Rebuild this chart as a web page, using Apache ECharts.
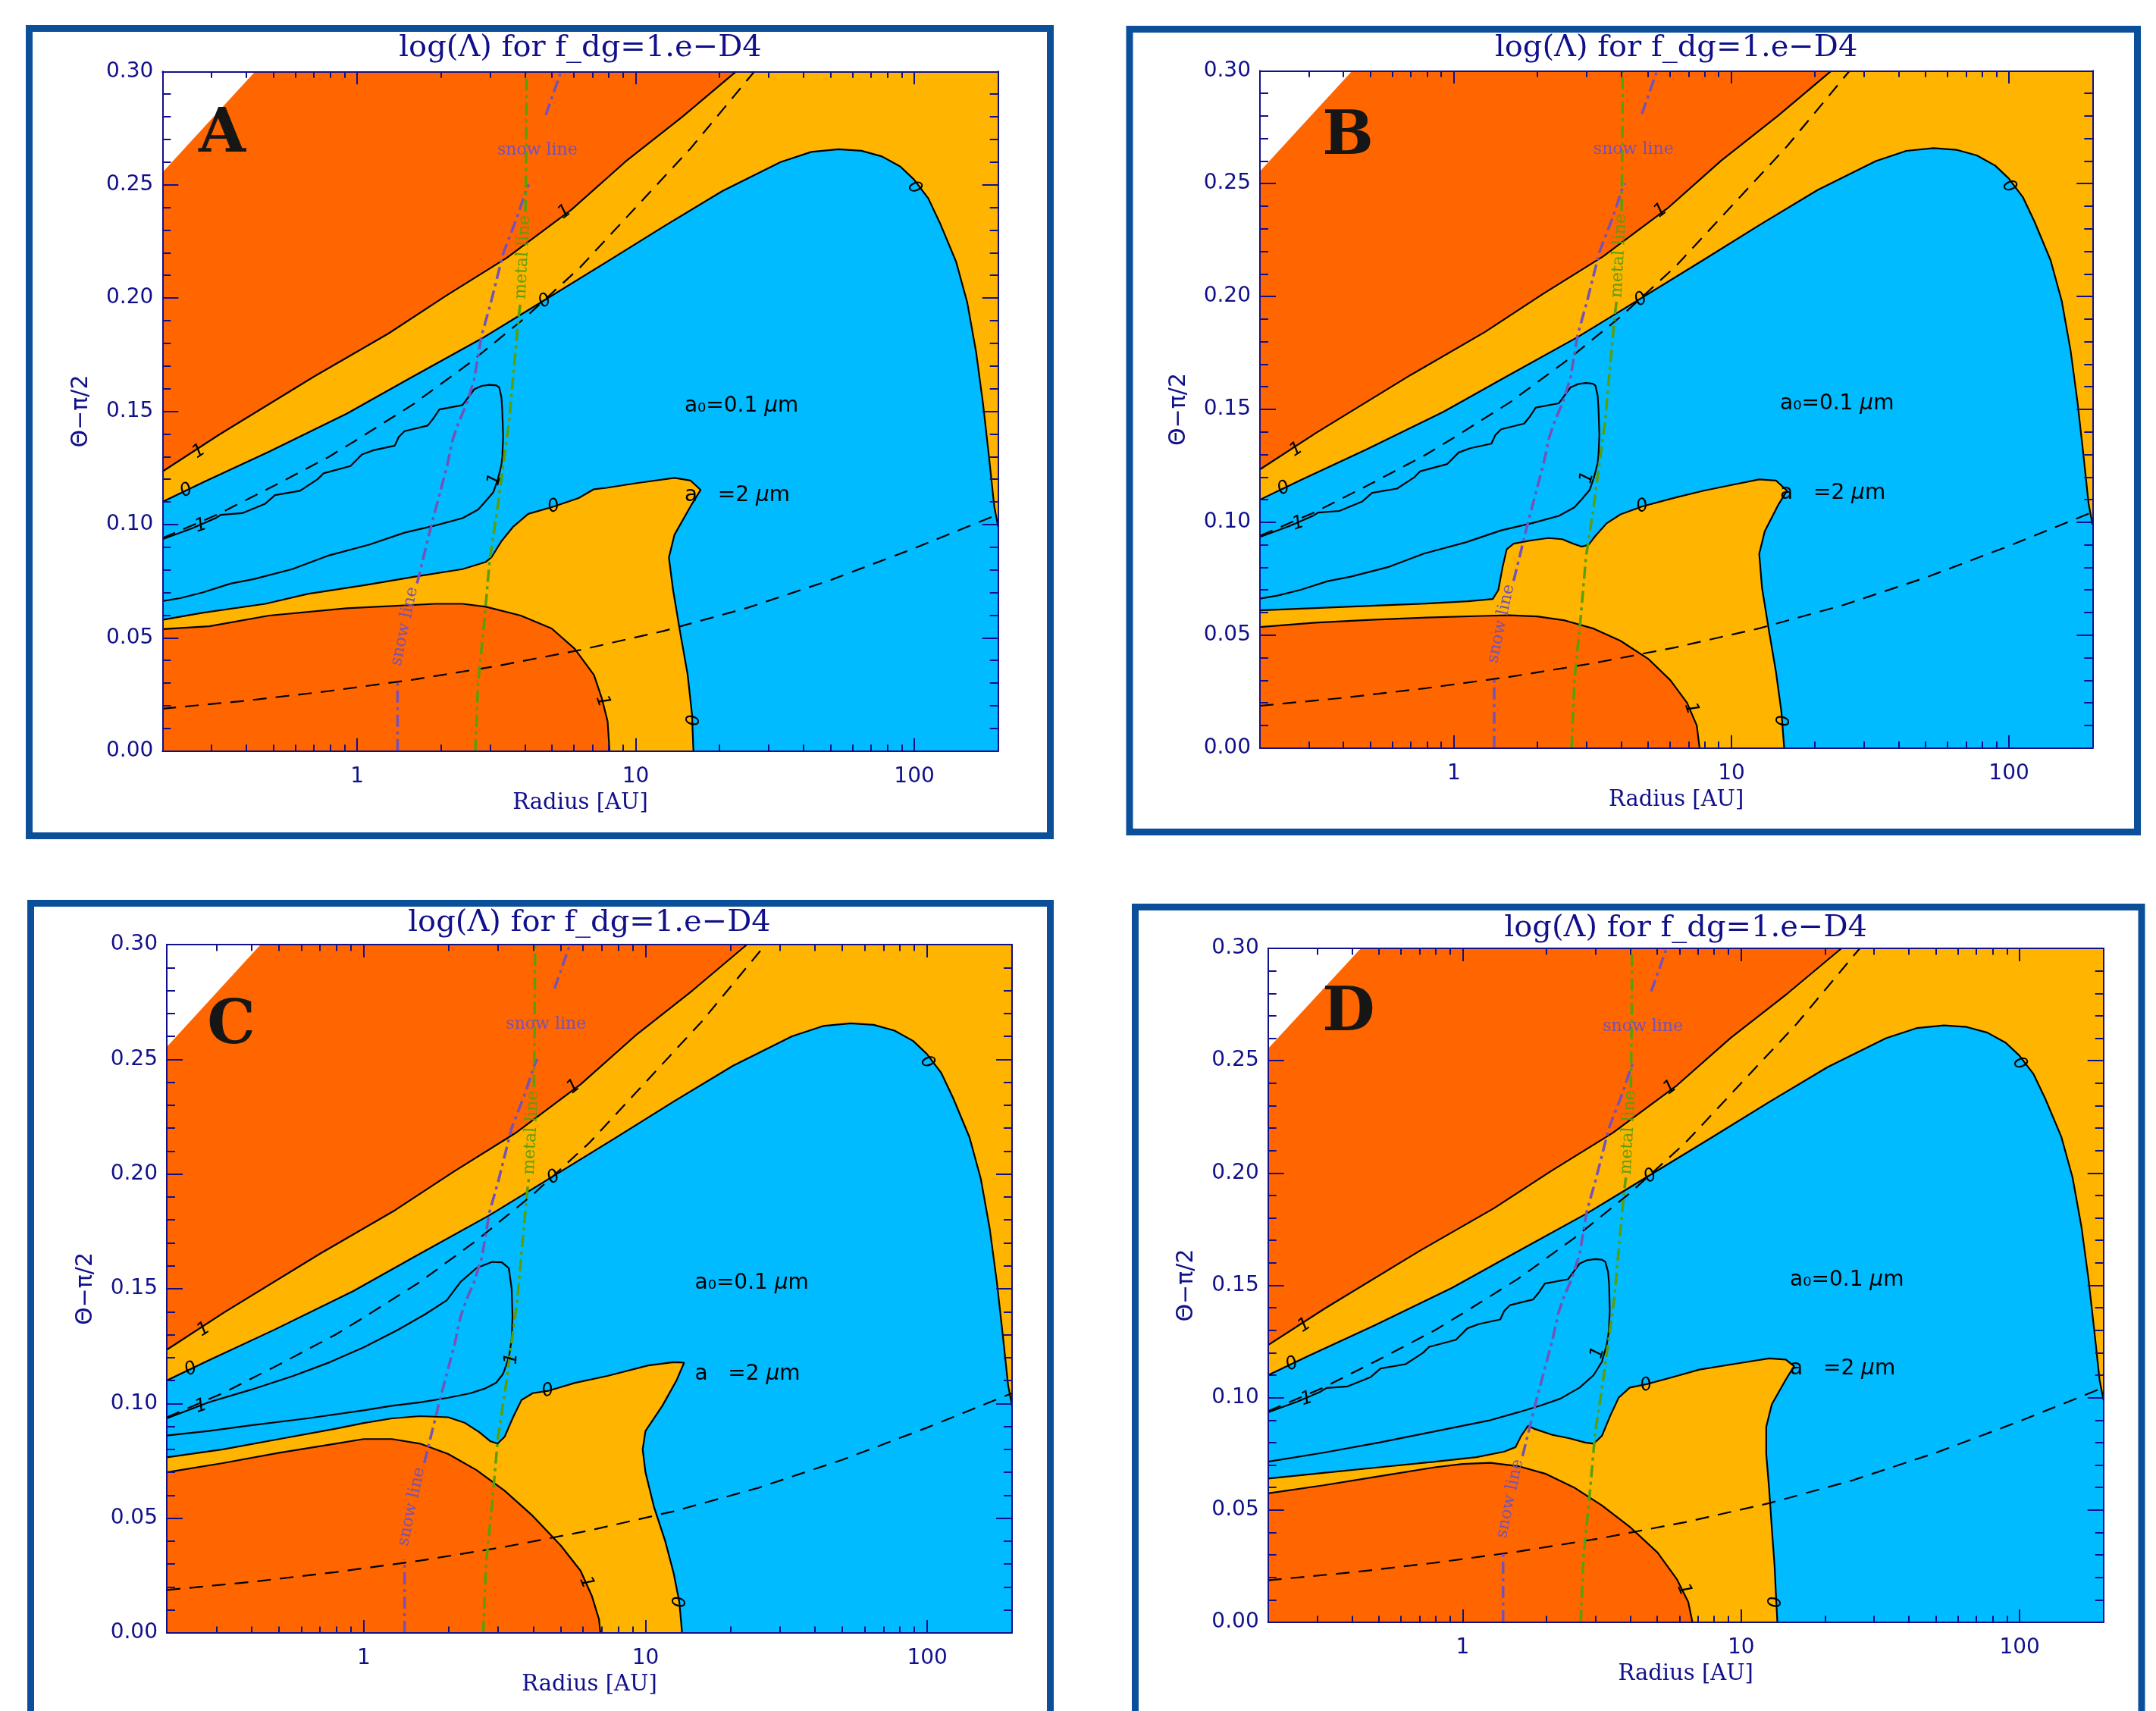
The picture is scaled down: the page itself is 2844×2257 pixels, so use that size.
<!DOCTYPE html>
<html><head><meta charset="utf-8">
<script src="https://cdn.jsdelivr.net/npm/echarts/dist/echarts.min.js"></script>
<style>html,body{margin:0;padding:0;background:#fff}#c{width:2844px;height:2257px}</style>
</head><body><div id="c"></div>
<script>
// ===== DATA: points are [log10(Radius/AU), Θ−π/2] =====
const X_MIN = -0.69897, X_MAX = 2.30103;
const xMajorTicks = [0, 1, 2];
const xMinorRadii = [0.3,0.4,0.5,0.6,0.7,0.8,0.9,2,3,4,5,6,7,8,9,20,30,40,50,60,70,80,90];
const yMin = 0, yMax = 0.30, yStep = 0.05;

// shared upper structure (a0 = 0.1 micron)
const contour1Upper = [[-0.699,0.1234],[-0.495,0.1397],[-0.155,0.1653],[0.112,0.1843],[0.319,0.2010],[0.538,0.2178],[0.769,0.2390],[0.963,0.2602],[1.167,0.2800],[1.360,0.300]];
const contour0Upper = [[-0.699,0.110],[-0.552,0.1187],[-0.316,0.1322],[-0.038,0.1489],[0.184,0.1642],[0.447,0.1821],[0.580,0.1921],[0.894,0.2158],[1.103,0.2318],[1.311,0.2472],[1.520,0.2600],[1.630,0.2645],[1.728,0.2657],[1.810,0.2650],[1.884,0.2625],[1.950,0.2580],[1.999,0.2523],[2.050,0.2440],[2.092,0.2331],[2.150,0.2160],[2.190,0.1980],[2.222,0.1760],[2.247,0.1530],[2.268,0.1300],[2.287,0.1080],[2.301,0.099]];
const dashUpper = [[-0.699,0.094],[-0.5,0.1045],[-0.3,0.117],[-0.1,0.130],[0,0.1375],[0.2,0.153],[0.4,0.171],[0.6,0.191],[0.8,0.2135],[1.0,0.240],[1.2,0.2665],[1.426,0.300]];
const dashLower = [[-0.699,0.0187],[-0.4,0.0222],[-0.1,0.0265],[0.2,0.0315],[0.5,0.0375],[0.8,0.0446],[1.1,0.0530],[1.4,0.0632],[1.7,0.0755],[2.0,0.0895],[2.301,0.1045]];
const whiteCorner = [[-0.699,0.2554],[-0.366,0.300],[-0.699,0.300]];
const snowLow = [[0.145,0.0],[0.145,0.032]];
const snowMid = [[0.215,0.074],[0.267,0.100],[0.323,0.126],[0.343,0.1375],[0.364,0.145],[0.392,0.153],[0.420,0.164],[0.446,0.1832],[0.477,0.1966],[0.525,0.2200],[0.574,0.2356],[0.604,0.2468],[0.616,0.2501]];
const snowTop = [[0.677,0.2808],[0.732,0.300]];
const metalLow = [[0.424,0.0],[0.434,0.030],[0.455,0.0554],[0.476,0.0848],[0.503,0.1066],[0.524,0.1258],[0.545,0.145],[0.559,0.1642],[0.580,0.1921],[0.586,0.198]];
const metalTop = [[0.604,0.238],[0.607,0.2713],[0.608,0.300]];
const sharedContourLabels = [['1',-0.568,0.1322,33],['0',-0.613,0.115,26],['1',0.745,0.238,37],['0',0.674,0.1986,31],['0',2.0,0.2487,-53]];
const sharedTexts = [['snowH','snow line',0.647,0.2652,0],['snowV','snow line',0.170,0.055,78],['metalV','metal line',0.595,0.218,87],
  ['a0','a₀=0.1 ',1.175,0.1524,0],['a2','a   =2 ',1.175,0.1127,0]];

// ---- panel A lower structure (a = 2 micron)
const innerLoopA = [[-0.699,0.0935],[-0.593,0.0983],[-0.510,0.1027],[-0.489,0.1043],[-0.413,0.1050],[-0.330,0.1092],[-0.295,0.1130],[-0.205,0.1149],[-0.142,0.1200],[-0.121,0.1226],[-0.024,0.1258],[0.017,0.1309],[0.059,0.1328],[0.135,0.1348],[0.149,0.1386],[0.170,0.1412],[0.253,0.1437],[0.274,0.1469],[0.295,0.1508],[0.378,0.1527],[0.420,0.1597],[0.447,0.1612],[0.475,0.1617],[0.500,0.1614],[0.510,0.1605],[0.518,0.1560],[0.521,0.1500],[0.524,0.1386],[0.521,0.1300],[0.517,0.1258],[0.505,0.1200],[0.489,0.1143],[0.462,0.1104],[0.434,0.1066],[0.378,0.1028],[0.281,0.0996],[0.170,0.0964],[0.045,0.0912],[-0.108,0.0861],[-0.233,0.0803],[-0.371,0.0759],[-0.455,0.0739],[-0.552,0.0701],[-0.635,0.0675],[-0.699,0.0662]];
const lower0A = [[-0.699,0.0579],[-0.552,0.0611],[-0.330,0.0650],[-0.177,0.0694],[0.031,0.0733],[0.212,0.0771],[0.378,0.0803],[0.462,0.0835],[0.482,0.0855],[0.517,0.0925],[0.559,0.0989],[0.614,0.1047],[0.705,0.1079],[0.795,0.1117],[0.850,0.1156],[0.895,0.1162],[0.999,0.1182],[1.139,0.1206],[1.197,0.1194],[1.233,0.1153],[1.197,0.1081],[1.139,0.0955],[1.119,0.0854],[1.134,0.0711],[1.160,0.0520],[1.186,0.0340],[1.202,0.0161],[1.207,0.0]];
const lower1A = [[-0.699,0.0538],[-0.531,0.0551],[-0.316,0.0598],[-0.038,0.0630],[0.281,0.0650],[0.378,0.0650],[0.462,0.0637],[0.587,0.0598],[0.698,0.0541],[0.781,0.0451],[0.850,0.0336],[0.878,0.0234],[0.899,0.0131],[0.906,0.0]];
const labelsA = [['1',-0.561,0.0995,18],['1',0.494,0.1198,75],['0',0.706,0.1079,18],['1',0.881,0.022,-71],['0',1.21,0.0136,90]];

// ---- panel B
const lower0B = [[-0.699,0.0610],[-0.5,0.0620],[-0.3,0.0630],[-0.1,0.0640],[0.05,0.0650],[0.14,0.0660],[0.16,0.0700],[0.175,0.0800],[0.19,0.0880],[0.215,0.0905],[0.28,0.0920],[0.34,0.0930],[0.39,0.0925],[0.43,0.0905],[0.46,0.0892],[0.485,0.0900],[0.51,0.0940],[0.55,0.0995],[0.60,0.1035],[0.679,0.1070],[0.80,0.1110],[0.90,0.1140],[1.00,0.1165],[1.10,0.1190],[1.16,0.1185],[1.20,0.1140],[1.17,0.1080],[1.12,0.0960],[1.10,0.0860],[1.11,0.0710],[1.135,0.0520],[1.16,0.0340],[1.18,0.0160],[1.19,0.0]];
const lower1B = [[-0.699,0.0536],[-0.5,0.0555],[-0.3,0.0568],[-0.1,0.0578],[0.1,0.0585],[0.2,0.0588],[0.3,0.0583],[0.4,0.0565],[0.5,0.0530],[0.6,0.0475],[0.7,0.0395],[0.78,0.0300],[0.84,0.0200],[0.875,0.0100],[0.885,0.0]];
const labelsB = [['1',-0.561,0.0995,18],['1',0.48,0.1198,75],['0',0.679,0.107,18],['1',0.855,0.0175,-71],['0',1.19,0.012,90]];

// ---- panel C
const innerLoopC = [[-0.699,0.0935],[-0.55,0.1005],[-0.4,0.1060],[-0.25,0.1120],[-0.12,0.1180],[0.0,0.1245],[0.12,0.1320],[0.22,0.1390],[0.295,0.1450],[0.344,0.1530],[0.40,0.1590],[0.456,0.1617],[0.49,0.1615],[0.515,0.1590],[0.525,0.1500],[0.528,0.1380],[0.525,0.1280],[0.515,0.1200],[0.495,0.1130],[0.47,0.1090],[0.43,0.1065],[0.38,0.1045],[0.3,0.1025],[0.2,0.1005],[0.1,0.0990],[0.0,0.0970],[-0.2,0.0935],[-0.4,0.0905],[-0.55,0.0880],[-0.699,0.0860]];
const lower0C = [[-0.699,0.0765],[-0.5,0.0800],[-0.3,0.0845],[-0.1,0.0890],[0.0,0.0915],[0.1,0.0935],[0.2,0.0945],[0.3,0.0940],[0.36,0.0915],[0.41,0.0875],[0.45,0.0835],[0.475,0.0825],[0.50,0.0855],[0.53,0.0940],[0.56,0.1015],[0.60,0.1045],[0.654,0.1055],[0.75,0.1090],[0.865,0.1120],[1.01,0.1166],[1.10,0.1180],[1.137,0.1178],[1.11,0.1100],[1.06,0.0990],[1.0,0.0880],[0.99,0.0800],[1.0,0.0700],[1.03,0.0550],[1.07,0.0400],[1.10,0.0260],[1.12,0.0135],[1.13,0.0]];
const lower1C = [[-0.699,0.0700],[-0.5,0.0740],[-0.3,0.0785],[-0.1,0.0825],[0.0,0.0845],[0.1,0.0845],[0.2,0.0825],[0.3,0.0780],[0.4,0.0710],[0.5,0.0620],[0.6,0.0510],[0.7,0.0380],[0.77,0.0270],[0.81,0.0160],[0.835,0.0060],[0.84,0.0]];
const labelsC = [['1',-0.577,0.0988,18],['1',0.525,0.1195,85],['0',0.654,0.1055,15],['1',0.79,0.022,-68],['0',1.125,0.0135,90]];

// ---- panel D
const lower0D = [[-0.699,0.0640],[-0.5,0.0665],[-0.3,0.0690],[-0.1,0.0715],[0.05,0.0735],[0.15,0.0760],[0.19,0.0780],[0.21,0.0830],[0.235,0.0875],[0.26,0.0860],[0.32,0.0835],[0.38,0.0820],[0.44,0.0800],[0.47,0.0795],[0.50,0.0830],[0.53,0.0920],[0.56,0.1000],[0.60,0.1045],[0.66,0.1060],[0.75,0.1090],[0.85,0.1125],[1.0,0.1155],[1.10,0.1175],[1.16,0.1170],[1.19,0.1140],[1.16,0.1080],[1.11,0.0970],[1.09,0.0870],[1.09,0.0750],[1.10,0.0600],[1.11,0.0420],[1.12,0.0250],[1.125,0.0120],[1.13,0.0]];
const lower1D = [[-0.699,0.0574],[-0.5,0.0610],[-0.3,0.0650],[-0.1,0.0690],[0.0,0.0705],[0.1,0.0710],[0.2,0.0695],[0.3,0.0660],[0.4,0.0600],[0.5,0.0520],[0.6,0.0425],[0.7,0.0310],[0.77,0.0190],[0.81,0.0090],[0.825,0.0]];
const innerLoopD = [[-0.699,0.0935],[-0.593,0.0983],[-0.510,0.1027],[-0.489,0.1043],[-0.413,0.1050],[-0.330,0.1092],[-0.295,0.1130],[-0.205,0.1149],[-0.142,0.1200],[-0.121,0.1226],[-0.024,0.1258],[0.017,0.1309],[0.059,0.1328],[0.135,0.1348],[0.149,0.1386],[0.170,0.1412],[0.253,0.1437],[0.274,0.1469],[0.295,0.1508],[0.378,0.1527],[0.420,0.1597],[0.447,0.1612],[0.475,0.1617],[0.500,0.1614],[0.512,0.1605],[0.522,0.1560],[0.526,0.1500],[0.528,0.1386],[0.525,0.1300],[0.518,0.1240],[0.500,0.1160],[0.470,0.1100],[0.420,0.1045],[0.350,0.0995],[0.280,0.0965],[0.200,0.0935],[0.100,0.0900],[-0.100,0.0850],[-0.300,0.0800],[-0.500,0.0755],[-0.699,0.0715]];
const labelsD = [['1',-0.56,0.0995,18],['1',0.485,0.120,75],['0',0.66,0.1055,18],['1',0.795,0.0145,-68],['0',1.125,0.009,90]];

const panelLetters = ['A','B','C','D'];
const letterPos = [[-0.485,0.2717],[-0.382,0.270],[-0.470,0.264],[-0.410,0.2706]];
const innerLoops = [innerLoopA, innerLoopA, innerLoopC, innerLoopD];
const lower0s = [lower0A, lower0B, lower0C, lower0D];
const lower1s = [lower1A, lower1B, lower1C, lower1D];
const lowerLabels = [labelsA, labelsB, labelsC, labelsD];

// ===== LAYOUT / STYLE =====
const grids = [
  {left:214.3, top:94.3, width:1102.4, height:896.4},
  {left:1662, top:93.3, width:1098.3, height:893.4},
  {left:220, top:1246, width:1115, height:908},
  {left:1672.7, top:1251, width:1102, height:889}
];
const frames = [[38.5,37.5,1347,1065],[1490,38.5,1329.5,1059],[40.5,1191.5,1345,1100],[1497.5,1196.5,1327.5,1100]];
const titleY = [64, 64, 1218, 1225];
const AX = '#10108a', FRAME = '#0b4f9b';
const RED = '#ff6600', ORG = '#ffb400', CYAN = '#00bbff', WHITE = '#ffffff';
const SNOW = '#7452b8', METAL = '#5a9e08';

const textStyles = {
  snowH: {font:'22px "DejaVu Serif"', fill:SNOW, align:'center'},
  snowV: {font:'22px "DejaVu Serif"', fill:SNOW, align:'center'},
  metalV:{font:'22px "DejaVu Serif"', fill:METAL, align:'center'},
  a0:    {font:'28px "DejaVu Sans"', fill:'#000', align:'left', mu:true},
  a2:    {font:'28px "DejaVu Sans"', fill:'#000', align:'left', mu:true},
  letter:{font:'bold 80px "DejaVu Serif"', fill:'#161616', align:'center'},
  clabel:{font:'italic 24px "DejaVu Sans"', fill:'#000', align:'center'}
};

const xMinorTicks = xMinorRadii.map(r => Math.log10(r));

function polyRenderer(list){
  return function(params, api){
    const f = list[params.dataIndex];
    return {type:'polygon', shape:{points:f.pts.map(p => api.coord(p))}, style:{fill:f.color}, silent:true};
  };
}
function textRenderer(list){
  return function(params, api){
    const t = list[params.dataIndex];
    const st = textStyles[t.kind];
    const c = api.coord([t.x, t.y]);
    const style = {text:t.text, font:st.font, fill:st.fill, align:st.align, verticalAlign:'middle'};
    if (st.mu){
      style.text = '{n|' + t.text + '}{i|μ}{n|m}';
      style.rich = {n:{font:st.font, fill:st.fill}, i:{font:'italic ' + st.font, fill:st.fill}};
    }
    return {type:'text', x:c[0], y:c[1], rotation:(t.rot||0)*Math.PI/180, style:style, silent:true};
  };
}

const option = {animation:false, backgroundColor:'#fff', grid:[], xAxis:[], yAxis:[], series:[], graphic:[]};

grids.forEach((g, i) => {
  option.grid.push(Object.assign({show:true, backgroundColor:ORG, borderWidth:0, containLabel:false, outerBoundsMode:'none'}, g));
  const xBase = {gridIndex:i, type:'value', min:X_MIN, max:X_MAX, z:10, splitLine:{show:false},
    axisLine:{show:true, onZero:false, lineStyle:{color:AX, width:2}}};
  option.xAxis.push(Object.assign({}, xBase, {position:'bottom',
    axisTick:{show:true, inside:true, length:17, customValues:xMajorTicks, lineStyle:{color:AX, width:2}},
    axisLabel:{show:true, customValues:xMajorTicks, color:AX, fontSize:28, fontFamily:'DejaVu Sans', margin:20,
      formatter: v => String(Math.round(Math.pow(10, v)))},
    name:'Radius [AU]', nameLocation:'middle', nameGap:54,
    nameTextStyle:{color:AX, fontSize:29, fontFamily:'DejaVu Serif'}}));
  option.xAxis.push(Object.assign({}, xBase, {position:'top',
    axisTick:{show:true, inside:true, length:17, customValues:xMajorTicks, lineStyle:{color:AX, width:2}},
    axisLabel:{show:false}}));
  option.xAxis.push(Object.assign({}, xBase, {position:'bottom', axisLine:{show:false, onZero:false},
    axisTick:{show:true, inside:true, length:8.5, customValues:xMinorTicks, lineStyle:{color:AX, width:2}},
    axisLabel:{show:false}}));
  option.xAxis.push(Object.assign({}, xBase, {position:'top', axisLine:{show:false, onZero:false},
    axisTick:{show:true, inside:true, length:8.5, customValues:xMinorTicks, lineStyle:{color:AX, width:2}},
    axisLabel:{show:false}}));
  const yBase = {gridIndex:i, type:'value', min:yMin, max:yMax, interval:yStep, z:10, splitLine:{show:false},
    axisLine:{show:true, onZero:false, lineStyle:{color:AX, width:2}},
    axisTick:{show:true, inside:true, length:21, lineStyle:{color:AX, width:2}},
    minorTick:{show:true, splitNumber:5, length:11, lineStyle:{color:AX, width:2}}};
  option.yAxis.push(Object.assign({}, yBase, {position:'left',
    axisLabel:{show:true, color:AX, fontSize:28, fontFamily:'DejaVu Sans', margin:12, formatter: v => v.toFixed(2)},
    name:'Θ−π/2', nameLocation:'middle', nameGap:92, nameTextStyle:{color:AX, fontSize:30, fontFamily:'DejaVu Sans'}}));
  option.yAxis.push(Object.assign({}, yBase, {position:'right', axisLabel:{show:false}}));

  const xi = 4*i, yi = 2*i;
  const fills = [
    {pts:[...contour0Upper, [X_MAX,0], ...lower0s[i].slice().reverse()], color:CYAN},
    {pts:[...contour1Upper, [X_MIN,0.30]], color:RED},
    {pts:[...lower1s[i], [X_MIN,0]], color:RED},
    {pts:whiteCorner, color:WHITE}
  ];
  option.series.push({type:'custom', xAxisIndex:xi, yAxisIndex:yi, z:1, clip:true, silent:true,
    renderItem:polyRenderer(fills), data:fills.map(() => [0, 0])});

  const line = (data, color, width, type, z) => ({type:'line', xAxisIndex:xi, yAxisIndex:yi, data:data,
    showSymbol:false, symbol:'none', silent:true, clip:true, z:z, lineStyle:{color:color, width:width, type:type}});
  [contour1Upper, contour0Upper, innerLoops[i], lower0s[i], lower1s[i]].forEach(d => option.series.push(line(d, '#000', 2.2, 'solid', 3)));
  [dashUpper, dashLower].forEach(d => option.series.push(line(d, '#000', 2.2, [18,12], 3)));
  [snowLow, snowMid, snowTop].forEach(d => option.series.push(line(d, SNOW, 3.5, [16,6,4,6], 4)));
  [metalLow, metalTop].forEach(d => option.series.push(line(d, METAL, 3.5, [16,6,4,6], 4)));

  const texts = [];
  sharedContourLabels.concat(lowerLabels[i]).forEach(l => texts.push({kind:'clabel', text:l[0], x:l[1], y:l[2], rot:l[3]}));
  sharedTexts.forEach(t => texts.push({kind:t[0], text:t[1], x:t[2], y:t[3], rot:t[4]}));
  texts.push({kind:'letter', text:panelLetters[i], x:letterPos[i][0], y:letterPos[i][1], rot:0});
  option.series.push({type:'custom', xAxisIndex:xi, yAxisIndex:yi, z:5, silent:true,
    renderItem:textRenderer(texts), data:texts.map(() => [0, 0])});

  const f = frames[i];
  option.graphic.push({type:'rect', shape:{x:f[0], y:f[1], width:f[2], height:f[3]}, style:{fill:'none', stroke:FRAME, lineWidth:9}, z:100});
  option.graphic.push({type:'text', x:g.left + g.width/2, y:titleY[i],
    style:{text:'log(Λ) for f_dg=1.e−D4', font:'40px "DejaVu Serif"', fill:AX, align:'center', verticalAlign:'middle'}, z:100});
});

const chart = echarts.init(document.getElementById('c'), null, {renderer:'canvas', width:2844, height:2257});
chart.setOption(option);
</script></body></html>
